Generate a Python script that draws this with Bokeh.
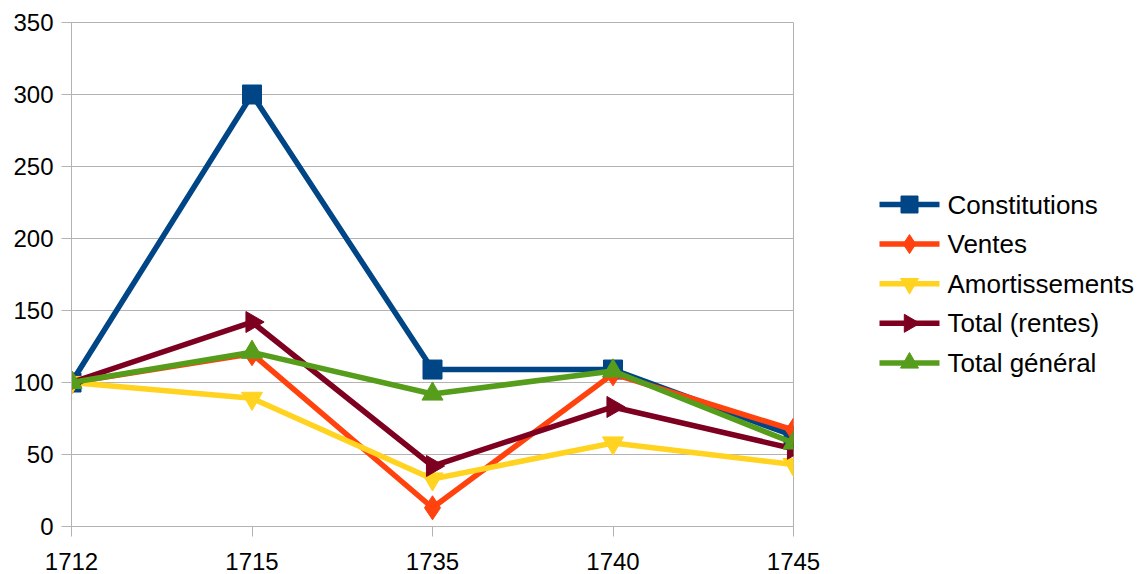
import math
from bokeh.plotting import figure
from bokeh.layouts import row
from bokeh.models import Range1d, FixedTicker
from bokeh.core.properties import value
from bokeh.embed import file_html
from bokeh.resources import INLINE

years = ["1712", "1715", "1735", "1740", "1745"]
constitutions = [100, 300, 109, 109, 63]
ventes = [100, 120, 13, 106, 67]
amortissements = [100, 89, 33, 58, 43]
total_rentes = [100, 142, 42, 83, 54]
total_general = [100, 121, 92, 108, 58]
y_ticks = [0, 50, 100, 150, 200, 250, 300, 350]

series = [
    ("Constitutions", constitutions, "#004586", "square", 19, 0.0),
    ("Ventes", ventes, "#ff420e", "diamond", 24, 0.0),
    ("Amortissements", amortissements, "#ffd320", "inverted_triangle", 21, 0.0),
    ("Total (rentes)", total_rentes, "#7e0021", "triangle", 21, -math.pi / 2),
    ("Total général", total_general, "#579d1c", "triangle", 21, 0.0),
]

GRAY = "#b3b3b3"
FONT = "Liberation Sans"
xs = list(range(len(years)))

MAIN_W = 833
TOTAL_W = 1136
H = 574

p = figure(output_backend="svg", toolbar_location=None,
           x_range=Range1d(0, len(years) - 1), y_range=Range1d(0, 350),
           min_border_left=71, min_border_right=MAIN_W - 71 - 722,
           min_border_top=22, min_border_bottom=H - 22 - 504)
p.frame_width = 722
p.frame_height = 504

p.xaxis.ticker = FixedTicker(ticks=xs)
p.xaxis.major_label_overrides = {i: y for i, y in enumerate(years)}
p.yaxis.ticker = FixedTicker(ticks=y_ticks)
for ax in (p.xaxis, p.yaxis):
    ax.axis_line_color = GRAY
    ax.major_tick_line_color = GRAY
    ax.major_tick_out = 10
    ax.major_tick_in = 0
    ax.minor_tick_line_color = None
    ax.major_label_text_font = FONT
    ax.major_label_text_font_size = "24px"
    ax.major_label_text_color = "#000000"
p.yaxis.major_label_standoff = 8
p.xaxis.major_label_standoff = 16
p.xgrid.grid_line_color = None
p.ygrid.grid_line_color = GRAY
p.ygrid.grid_line_width = 1
p.outline_line_color = GRAY
p.background_fill_color = "white"
p.border_fill_color = "white"

for name, vals, color, marker, size, ang in series:
    p.line(xs, vals, line_color=color, line_width=5.5)
    p.scatter(xs, vals, marker=marker, size=size, angle=ang,
              fill_color=color, line_color=color)

# Legend drawn in its own panel (pixel coordinates of the page)
lg = figure(output_backend="svg", toolbar_location=None,
            x_range=Range1d(MAIN_W, TOTAL_W), y_range=Range1d(H, 0),
            x_axis_type=None, y_axis_type=None,
            min_border=0, min_border_left=0, min_border_right=0,
            min_border_top=0, min_border_bottom=0)
lg.frame_width = TOTAL_W - MAIN_W
lg.frame_height = H
lg.outline_line_color = None
lg.background_fill_color = "white"
lg.border_fill_color = "white"

leg_x0, leg_x1, leg_text_x = 879, 939, 947
leg_y0, leg_step = 182, 39.6
leg_sizes = [17, 19, 18, 18, 18]
for i, (name, vals, color, marker, size, ang) in enumerate(series):
    yy = leg_y0 + i * leg_step
    lg.line([leg_x0, leg_x1], [yy, yy], line_color=color, line_width=5.5)
    lg.scatter([(leg_x0 + leg_x1) / 2], [yy], marker=marker, size=leg_sizes[i],
               angle=ang, fill_color=color, line_color=color)
    lg.text([leg_text_x], [yy], text=[name], text_font=value(FONT),
            text_font_size="26px", text_baseline="middle", text_align="left",
            text_color="#000000")

layout = row(p, lg, spacing=0)
open("out.html", "w").write(file_html(layout, INLINE))
